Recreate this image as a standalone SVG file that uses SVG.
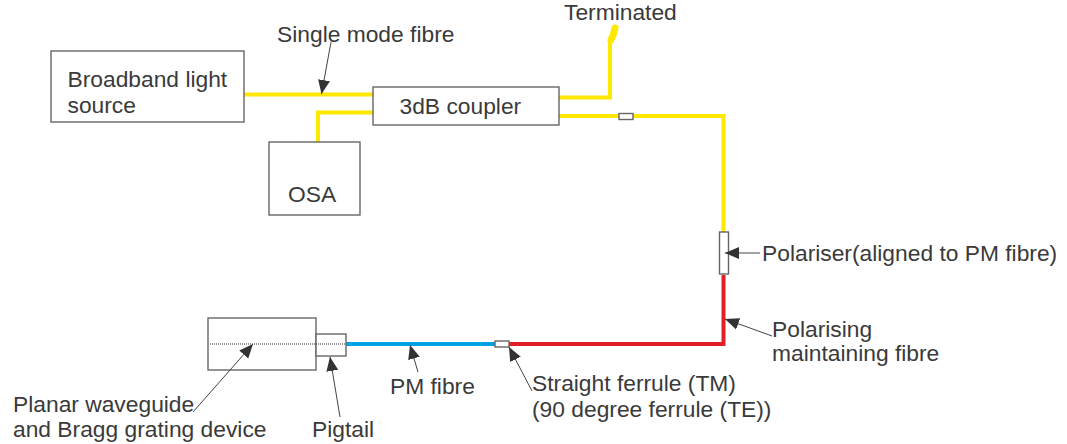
<svg xmlns="http://www.w3.org/2000/svg" width="1067" height="444" viewBox="0 0 1067 444">
<style>
text{font-family:"Liberation Sans",Arial,sans-serif;font-size:22.8px;fill:#3a3a3a}
.box{fill:#fff;stroke:#666;stroke-width:1.4}
.fib{fill:none;stroke-width:4}
.blob{fill:none;stroke:#ffe800;stroke-width:7;stroke-linecap:round}
.y{stroke:#ffe800}.r{stroke:#e31e26}.b{stroke:#00a4e4}
.lead{fill:none;stroke:#444;stroke-width:1;marker-end:url(#ah)}
</style>
<defs><marker id="ah" markerUnits="userSpaceOnUse" markerWidth="15" markerHeight="13" refX="14" refY="6.500" orient="auto"><path d="M0 0.500L14 6.500L0 12.500Z" fill="#333"/></marker></defs>
<g id="fibres">
<path class="fib y" d="M244 94.500H373"/>
<path class="fib y" d="M318 142V112.500H373"/>
<path class="fib y" d="M559 97.500H610V42"/>
<path class="blob" d="M611 40L613.500 34L615 28"/>
<path class="fib y" d="M559 116H723.500V232"/>
<path class="fib r" d="M723.500 275V344H509"/>
<path class="fib b" d="M346 344H495"/>
</g>
<g id="broadband-light-source"><rect class="box" x="51" y="51" width="193" height="71"/><text x="67.500" y="87">Broadband light</text><text x="67.500" y="113">source</text></g>
<g id="coupler"><rect class="box" x="373" y="87" width="186" height="38"/><text x="399.500" y="114">3dB coupler</text></g>
<g id="osa"><rect class="box" x="269" y="142" width="91" height="73"/><text x="288" y="202">OSA</text></g>
<g id="ferrule-top"><rect class="box" x="619" y="113.500" width="14" height="6"/></g>
<g id="polariser"><rect class="box" x="719.500" y="232" width="9" height="42"/></g>
<g id="ferrule-bottom"><rect class="box" x="495" y="341" width="14" height="6"/></g>
<g id="device"><rect class="box" x="208" y="318" width="108" height="52"/><rect class="box" x="316" y="334" width="30" height="22"/><path d="M210 344H345" stroke="#333" stroke-width="1" stroke-dasharray="1 1" fill="none"/></g>
<g id="leaders">
<path class="lead" d="M331 42L321.500 94"/>
<path class="lead" d="M760 253H725"/>
<path class="lead" d="M772 336L725 319"/>
<path class="lead" d="M418 372L410 345"/>
<path class="lead" d="M532 391L509 347"/>
<path class="lead" d="M193 412L253 344"/>
<path class="lead" d="M340 417L330 357"/>
</g>
<g id="labels">
<text x="564" y="20">Terminated</text>
<text x="277" y="42">Single mode fibre</text>
<text x="762" y="261">Polariser(aligned to PM fibre)</text>
<text x="772" y="337">Polarising</text>
<text x="772" y="361">maintaining fibre</text>
<text x="390" y="394">PM fibre</text>
<text x="532" y="391">Straight ferrule (TM)</text>
<text x="532" y="417">(90 degree ferrule (TE))</text>
<text x="13" y="412">Planar waveguide</text>
<text x="13" y="437">and Bragg grating device</text>
<text x="312" y="437">Pigtail</text>
</g>
</svg>
